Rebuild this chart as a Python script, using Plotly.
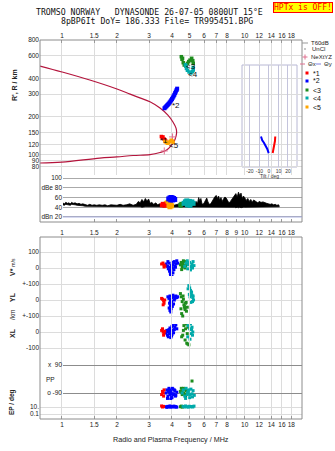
import math
import plotly.graph_objects as go

# ---------------- data ----------------
freq_ticks_top = [1, 1.5, 2, 3, 4, 5, 6, 7, 8, 10, 12, 14, 16, 18]
freq_ticks_mid = [1, 1.5, 2, 3, 4, 5, 6, 7, 8, 9, 10, 12, 14, 16, 18]
height_ticks = [80, 90, 100, 120, 150, 200, 300, 400, 600, 800]
amp_ticks = [20, 40, 60, 80, 100]
amp_ticktext = ["dBn 20", "40", "60", "dBe 80", "100"]
tilt_ticks = [-20, -10, 0, 10, 20]

# model profile (MHz, km)
prof_f = [0.758, 1.0, 1.42, 2.0, 2.36, 2.67, 3.03, 3.44, 3.80, 4.05, 4.21, 4.24, 4.15,
          3.98, 3.74, 3.44, 3.03, 2.45, 2.0, 1.61, 1.0, 0.758]
prof_h = [499, 448, 387, 329, 300, 280, 261, 233, 205, 181, 162, 148, 131,
          119, 109, 104, 100, 98.5, 96, 94, 87.5, 86]

nextyz_f = [4.03, 3.63]
nextyz_h = [138, 107]

# echo traces (MHz, km)
e1_f = [3.50, 3.54, 3.57, 3.62, 3.66, 3.70]
e1_h = [139, 136, 138, 133, 131, 128]
e2_f = [3.64, 3.68, 3.72, 3.76, 3.80, 3.84, 3.88, 3.92, 3.96, 4.00, 4.04, 4.08, 4.12, 4.16, 4.20, 4.24, 4.27]
e2_h = [232, 236, 240, 244, 248, 252, 257, 262, 268, 274, 281, 288, 296, 305, 314, 323, 331]
e3_f = [4.50, 4.57, 4.54, 4.61, 4.67, 4.77, 4.86, 4.94, 5.02, 5.13, 5.20, 5.23]
e3_h = [591, 574, 564, 530, 508, 499, 524, 541, 555, 574, 550, 524]
e4_f = [4.74, 4.77, 4.80, 4.86, 4.96, 5.08, 5.18, 5.23, 5.23]
e4_h = [510, 499, 478, 462, 448, 440, 450, 464, 486]
e5_f = [3.66, 3.72, 3.78, 3.84, 3.90, 3.96, 4.02, 4.06]
e5_h = [127, 125, 123, 124, 127, 130, 128, 125]

# amplitude (dB)
noise_f = [
    1.01, 1.03, 1.05, 1.07, 1.09, 1.11, 1.13, 1.15, 1.18, 1.21,
    1.24, 1.27, 1.30, 1.34, 1.38, 1.42, 1.46, 1.50, 1.55, 1.60,
    1.66, 1.72, 1.78, 1.85, 1.92, 2.00, 2.08, 2.16, 2.25, 2.35,
    2.45, 2.55, 2.62, 2.68, 2.74, 2.80, 2.86, 2.92, 2.98, 3.04,
    3.10, 3.18, 3.26, 3.34, 3.42, 3.50, 3.65, 3.80, 3.95, 4.10,
    4.30, 4.50, 4.70, 4.90, 5.10, 5.30, 5.42, 5.52, 5.60, 5.68,
    5.76, 5.84, 5.92, 6.00, 6.10, 6.20, 6.30, 6.40, 6.52, 6.64,
    6.76, 6.88, 7.00, 7.10, 7.20, 7.30, 7.42, 7.54, 7.66, 7.80,
    7.92, 8.05, 8.20, 8.35, 8.50, 8.65, 8.80, 8.95, 9.10, 9.25,
    9.40, 9.55, 9.70, 9.85, 10.0, 10.2, 10.4, 10.6, 10.8, 11.0,
    11.2, 11.4, 11.6, 11.8, 12.0, 12.3, 12.6, 12.9, 13.2, 13.5,
    13.8, 14.1, 14.4, 14.7, 15.0, 15.3, 15.5]
noise_db = [
    49, 47, 50, 48, 49, 47, 50, 48, 49, 47,
    48, 46, 47, 45, 44, 46, 44, 45, 44, 45,
    44, 45, 43, 45, 44, 44, 46, 44, 45, 47,
    44, 46, 52, 49, 56, 51, 58, 53, 57, 48,
    50, 46, 49, 45, 47, 45, 46, 45, 46, 44,
    46, 45, 47, 46, 45, 47, 52, 48, 60, 53,
    58, 47, 46, 49, 56, 59, 51, 46, 47, 53,
    56, 62, 64, 58, 63, 55, 60, 52, 57, 61,
    59, 53, 49, 52, 56, 59, 62, 68, 61, 71,
    64, 69, 58, 63, 60, 54, 58, 52, 56, 50,
    55, 53, 51, 49, 52, 50, 51, 49, 48, 47,
    46, 47, 45, 46, 44, 45, 43]
noise_floor = [
    45, 44, 46, 45, 45, 44, 46, 45, 45, 44,
    44, 43, 43, 42, 42, 42, 42, 42, 42, 42,
    42, 42, 41, 42, 42, 41, 42, 42, 42, 42,
    41, 42, 41, 41, 40, 41, 41, 41, 41, 41,
    41, 41, 41, 41, 41, 41, 41, 41, 41, 41,
    41, 41, 41, 41, 41, 41, 41, 41, 40, 41,
    40, 41, 41, 41, 40, 40, 41, 41, 41, 40,
    40, 40, 40, 40, 40, 40, 40, 41, 40, 40,
    40, 40, 41, 40, 40, 40, 40, 39, 40, 39,
    40, 39, 40, 40, 40, 40, 40, 41, 40, 41,
    40, 41, 41, 41, 41, 41, 41, 41, 41, 41,
    41, 41, 41, 41, 41, 41, 41]
amp1_f = [3.52, 3.56, 3.60, 3.64]
amp1_db = [44, 47, 46, 43]
amp2_f = [3.84, 3.90, 3.96, 4.02, 4.08, 4.14, 3.94, 4.04]
amp2_db = [57, 59, 60, 59, 58, 56, 55, 55]
amp3_f = [4.44, 4.50, 4.47]
amp3_db = [45, 47, 43]
amp4_f = [4.66, 4.74, 4.82, 4.90, 4.98, 5.06, 5.14, 5.22, 4.86, 5.02]
amp4_db = [48, 51, 53, 50, 52, 49, 51, 48, 45, 44]
amp5_f = [3.68, 3.74, 3.80, 3.86, 3.92, 3.98, 3.78, 3.90]
amp5_db = [46, 48, 50, 49, 47, 43, 44, 41]

# velocities (m/s) and locations (km)
v1_f = [3.51, 3.57, 3.62, 3.66, 3.62, 3.57, 3.62]
v1 = [25, 31, 6, 12, 19, -62, -75]
v2_f = [3.72, 3.78, 3.82, 3.86, 3.88, 3.90, 3.92, 3.95, 3.97, 4.00, 4.02, 4.05, 4.08, 4.12, 4.15, 4.20,
        4.25, 4.30, 3.85, 3.90, 3.93, 3.96, 4.00, 3.88, 3.92, 3.98, 3.95, 3.90, 4.05, 4.18, 3.80, 4.10]
v2 = [25, 10, -5, 30, -20, 5, -35, -10, 15, -50, 0, 20, 35, 40, 10, 25,
      45, 30, -60, -80, -45, -95, -70, -110, -125, -90, -25, -15, -30, 5, 40, -10]
v3_f = [4.45, 4.50, 4.55, 4.60, 4.65, 4.70, 4.75, 4.80, 4.52, 4.62, 4.72, 4.58]
v3 = [20, 35, 5, 30, 10, 40, 15, 25, -10, 45, 0, 18]
v4_f = [4.70, 4.78, 4.85, 4.92, 5.00, 5.08, 5.15, 5.22, 5.28, 4.88, 5.05, 5.18, 4.95, 5.12]
v4 = [10, 30, 45, 20, 35, 5, 25, 40, 15, -5, -12, 0, 30, 10]

yl1_f = [3.51, 3.55, 3.60, 3.62, 3.58, 3.65]
yl1 = [10, 5, -5, -20, -30, 0]
yl2_f = [3.80, 3.85, 3.90, 3.95, 4.00, 4.05, 4.10, 4.15, 4.20, 4.25, 3.88,
         3.92, 3.98, 4.02, 3.86, 3.90, 3.94, 4.08, 3.96, 3.92, 4.12, 4.30]
yl2 = [20, 10, 25, 5, 15, 30, 20, 10, 25, 15, -20,
       -35, -10, -40, -50, -65, -75, -25, -55, -5, 0, 20]
yl3_f = [4.45, 4.50, 4.55, 4.60, 4.65, 4.70, 4.75, 4.80, 4.85, 4.52, 4.62, 4.72, 4.58, 4.68, 4.78, 4.48]
yl3 = [40, 20, -10, 25, -30, -50, -20, -70, -45, -85, 5, -60, -100, -40, -15, -55]
yl4_f = [4.95, 5.00, 5.05, 5.10, 5.15, 5.20, 5.25, 4.90, 5.02, 5.12, 5.18, 5.22, 4.98, 5.08]
yl4 = [90, 75, 60, 45, 30, 15, 0, 70, 20, 50, -10, 25, 35, -15]

xl1_f = [3.51, 3.55, 3.58, 3.62, 3.60, 3.65]
xl1 = [10, 20, 0, -10, -20, 5]
xl2_f = [3.70, 3.75, 3.80, 3.85, 3.90, 3.95, 4.00, 4.05, 4.10, 4.15, 4.20,
         4.25, 3.78, 3.88, 3.92, 3.98, 4.02, 4.08, 3.82, 3.94, 4.12, 4.00]
xl2 = [-5, 10, 0, 15, 25, 20, 35, 40, 55, 30, 45,
       20, -20, -10, 5, -25, 10, -5, -30, -35, 15, -15]
xl3_f = [4.45, 4.50, 4.55, 4.60, 4.65, 4.70, 4.75, 4.80, 4.85, 4.90, 4.52, 4.62, 4.72, 4.82, 4.58, 4.68, 4.95, 4.88]
xl3 = [120, 80, 60, 100, 40, 70, 20, 50, -10, 30, -30, 10, -50, -70, -20, 90, -80, -75]
xl4_f = [4.75, 4.80, 4.85, 4.90, 4.95, 5.00, 5.05, 5.10, 5.15, 5.20, 5.25, 4.88, 5.02, 5.12, 5.18, 4.98]
xl4 = [100, 80, 60, 40, 70, 20, 50, -10, 30, 0, 60, -30, -45, 15, -20, 85]

# polarisation (deg) and EP (deg)
pp1_f = [3.51, 3.55, 3.60, 3.62, 3.58]
pp1 = [-100, -80, -110, -70, -90]
pp2_f = [3.70, 3.75, 3.80, 3.85, 3.90, 3.95, 4.00, 4.05, 4.10, 4.15, 4.20, 4.25,
         3.78, 3.88, 3.92, 3.98, 4.02, 4.08, 3.82, 3.94, 4.12, 4.00, 3.86, 4.18]
pp2 = [-90, -70, -110, -60, -100, -80, -120, -65, -95, -75, -105, -85,
       -125, -70, -90, -115, -60, -100, -80, -130, -70, -95, -85, -110]
pp3_f = [4.45, 4.50, 4.55, 4.60, 4.65, 4.70, 4.75, 4.80, 4.85, 4.52, 4.62, 4.72, 5.15]
pp3 = [-80, -60, -100, -70, -90, -65, -110, -75, -95, -85, -60, -100, -13]
pp4_f = [4.55, 4.62, 4.70, 4.78, 4.85, 4.92, 5.00, 5.08, 5.15, 5.22, 5.30, 4.75, 4.88, 5.02, 5.18, 4.95]
pp4 = [-90, -70, -110, -60, -100, -80, -120, -65, -95, -75, -105, -125, -85, -100, -115, -70]

ep1_f = [3.51, 3.55, 3.60]
ep1 = [20, 10, 15]
ep2_f = [3.70, 3.75, 3.80, 3.85, 3.90, 3.95, 4.00, 4.05, 4.10, 4.15, 4.20, 4.25]
ep2 = [12, 8, 15, 10, 20, 9, 14, 11, 18, 10, 13, 9]
ep3_f = [4.45, 4.50, 4.55]
ep3 = [12, 18, 9]
ep4_f = [4.60, 4.68, 4.75, 4.82, 4.90, 4.98, 5.05, 5.12, 5.20, 5.28]
ep4 = [15, 10, 20, 12, 9, 16, 11, 14, 10, 18]

# tilt inset (deg, km)
tiltx_deg = [-8.4, -7.1, -5.3, -3.2, -1.8, -0.3]
tiltx_h = [139, 130, 124, 117, 111, 103]
tilty_deg = [3.9, 4.7, 5.8, 6.3, 6.6]
tilty_h = [103, 111, 119, 128, 139]

# ---------------- styling ----------------
C1, C2, C3, C4, C5 = "#ff0000", "#0000ff", "#1e8c1e", "#00aaaa", "#ffa500"
PROF = "#b4143c"
PINK = "#e07090"
GRID = "#dcdcdc"
FRAME = "#8c8c8c"
FONT = "Liberation Sans"
MONO = "DejaVu Sans Mono"

W, H = 335, 451
ML, MR, MT, MB = 40, 33, 40, 32
PW, PH = W - ML - MR, H - MT - MB


def px(x):
    return (x - ML) / PW


def py(y):
    return (H - MB - y) / PH


LOGR = [math.log10(0.758), math.log10(20.6)]
D_IN = px(63)
LOGR_IN = [LOGR[0] + D_IN * (LOGR[1] - LOGR[0]), LOGR[1]]

fig = go.Figure()


def sq(f, v, color, xa, ya, size=3):
    fig.add_trace(go.Scatter(x=f, y=v, mode="markers", xaxis=xa, yaxis=ya,
                             marker=dict(symbol="square", size=size, color=color, line=dict(width=0)),
                             hoverinfo="skip"))


# lower panel background subplot (for full-height vertical grid) - first so it sits underneath
fig.add_trace(go.Scatter(x=[], y=[], xaxis="x3", yaxis="y8"))

# main panel
fig.add_trace(go.Scatter(x=prof_f, y=prof_h, mode="lines", line=dict(color=PROF, width=1.2, shape="spline"),
                         xaxis="x", yaxis="y"))
fig.add_trace(go.Scatter(x=nextyz_f, y=nextyz_h, mode="markers", xaxis="x", yaxis="y",
                         marker=dict(symbol="cross-thin", size=5, line=dict(color=PINK, width=1))))
sq(e2_f, e2_h, C2, "x", "y", 4)
sq(e3_f, e3_h, C3, "x", "y", 3.5)
sq(e4_f, e4_h, C4, "x", "y", 3.5)
sq(e1_f, e1_h, C1, "x", "y", 3.5)
sq(e5_f, e5_h, C5, "x", "y", 3.5)

# amplitude panel
fig.add_trace(go.Scatter(x=noise_f, y=noise_floor, mode="lines", line=dict(color="black", width=0.8),
                         xaxis="x2", yaxis="y2"))
fig.add_trace(go.Scatter(x=noise_f, y=noise_db, mode="lines", line=dict(color="black", width=0.8),
                         fill="tonexty", fillcolor="black", xaxis="x2", yaxis="y2"))
sq(amp5_f, amp5_db, C5, "x2", "y2", 5)
sq(amp1_f, amp1_db, C1, "x2", "y2", 4)
sq(amp2_f, amp2_db, C2, "x2", "y2", 5)
sq(amp3_f, amp3_db, C3, "x2", "y2", 4)
sq(amp4_f, amp4_db, C4, "x2", "y2", 5)

for fl, vl, col in [(v3_f, v3, C3), (v4_f, v4, C4), (v2_f, v2, C2), (v1_f, v1, C1)]:
    sq(fl, vl, col, "x3", "y3")
for fl, vl, col in [(yl3_f, yl3, C3), (yl4_f, yl4, C4), (yl2_f, yl2, C2), (yl1_f, yl1, C1)]:
    sq(fl, vl, col, "x3", "y4")
for fl, vl, col in [(xl3_f, xl3, C3), (xl4_f, xl4, C4), (xl2_f, xl2, C2), (xl1_f, xl1, C1)]:
    sq(fl, vl, col, "x3", "y5")
for fl, vl, col in [(pp3_f, pp3, C3), (pp4_f, pp4, C4), (pp2_f, pp2, C2), (pp1_f, pp1, C1)]:
    sq(fl, vl, col, "x5", "y6")
for fl, vl, col in [(ep3_f, ep3, C3), (ep4_f, ep4, C4), (ep2_f, ep2, C2), (ep1_f, ep1, C1)]:
    sq(fl, vl, col, "x4", "y7")

# tilt inset
fig.add_trace(go.Scatter(x=tiltx_deg, y=tiltx_h, mode="lines", line=dict(color=C2, width=2),
                         xaxis="x6", yaxis="y9"))
fig.add_trace(go.Scatter(x=tilty_deg, y=tilty_h, mode="lines", line=dict(color=C1, width=2),
                         xaxis="x6", yaxis="y9"))

tf = dict(family=FONT, size=6.5, color="#222")
cx = dict(type="log", range=LOGR, zeroline=False, showline=False, tickfont=tf, ticks="inside",
          ticklen=3, tickcolor="#999", gridcolor=GRID, gridwidth=1, tickangle=0)
cy = dict(zeroline=False, showline=False, tickfont=tf, ticks="", gridcolor=GRID, gridwidth=1)

fig.update_layout(
    width=W, height=H, margin=dict(l=ML, r=MR, t=MT, b=MB),
    paper_bgcolor="white", plot_bgcolor="rgba(0,0,0,0)", showlegend=False,
    font=dict(family=FONT, size=6.5, color="#222"),
    xaxis=dict(cx, domain=[0, 1], anchor="y", side="top", tickvals=freq_ticks_top,
               ticktext=[str(v) for v in freq_ticks_top]),
    xaxis2=dict(type="log", range=LOGR_IN, domain=[D_IN, 1], anchor="y2", showgrid=False,
                showticklabels=False, ticks="inside", ticklen=3, tickcolor="#999",
                tickvals=freq_ticks_mid, zeroline=False),
    xaxis3=dict(cx, domain=[0, 1], anchor="y3", side="top", tickvals=freq_ticks_mid,
                ticktext=[str(v) for v in freq_ticks_mid]),
    xaxis4=dict(cx, domain=[0, 1], anchor="y7", side="bottom", tickvals=freq_ticks_top,
                ticktext=[str(v) for v in freq_ticks_top]),
    xaxis5=dict(type="log", range=LOGR_IN, domain=[D_IN, 1], anchor="y6", showgrid=False,
                showticklabels=False, ticks="", zeroline=False),
    xaxis6=dict(range=[-28.4, 29.5], domain=[px(242), px(297)], anchor="y9", tickvals=tilt_ticks,
                ticktext=[str(v) for v in tilt_ticks], tickfont=dict(family=FONT, size=5, color="#333"),
                ticks="", gridcolor="#c4c4dc", zeroline=False, showline=False, tickangle=0),
    yaxis=dict(cy, type="log", domain=[py(175), 1], range=[1.840, 2.903], anchor="x",
               tickvals=height_ticks, ticktext=[str(v) for v in height_ticks]),
    yaxis2=dict(cy, domain=[py(222), py(175)], range=[9.7, 106.2], anchor="x2",
                tickvals=amp_ticks, ticktext=amp_ticktext, gridcolor="#aaaaaa"),
    yaxis3=dict(cy, domain=[py(276), py(237)], range=[-50, 193.75], anchor="x3",
                tickvals=[0, 100], ticktext=["0", "100"]),
    yaxis4=dict(cy, domain=[py(324), py(276)], range=[-150, 150], anchor="x3",
                tickvals=[-100, 0, 100], ticktext=["+-100", "0", "+-100"]),
    yaxis5=dict(cy, domain=[py(355), py(324)], range=[-143.75, 50], anchor="x3",
                tickvals=[-100, 0], ticktext=["-100", "0"]),
    yaxis6=dict(cy, domain=[py(400), py(355)], range=[-135, 154.3], anchor="x5",
                tickvals=[-90, 90], ticktext=["o -90", "x\u00a0\u00a090"], gridcolor="#8c8c8c"),
    yaxis7=dict(cy, type="log", domain=[0, py(400)], range=[-2.4286, 3], anchor="x4",
                tickvals=[0.1, 10], ticktext=["0.1", "10."]),
    yaxis8=dict(domain=[0, py(237)], range=[0, 1], anchor="x3", showgrid=False,
                showticklabels=False, ticks="", zeroline=False),
    yaxis9=dict(type="log", domain=[py(167), py(65)], range=[1.903, 2.706], anchor="x6",
                showgrid=False, showticklabels=False, ticks="", zeroline=False),
)

shapes = [
    dict(type="rect", xref="paper", yref="paper", x0=px(242), x1=px(297), y0=py(167), y1=py(65),
         fillcolor="white", line=dict(color="#b8b8d4", width=1), layer="between"),
    dict(type="rect", xref="paper", yref="paper", x0=0, x1=1, y0=py(222), y1=1,
         line=dict(color=FRAME, width=1)),
    dict(type="rect", xref="paper", yref="paper", x0=0, x1=1, y0=0, y1=py(237),
         line=dict(color=FRAME, width=1)),
    dict(type="line", xref="x2 domain", yref="y2", x0=0, x1=1, y0=20, y1=20,
         line=dict(color="#a8aee0", width=1)),
    # legend glyphs
    dict(type="line", xref="paper", yref="paper", x0=px(302), x1=px(308), y0=py(43), y1=py(43),
         line=dict(color="#999", width=1)),
    dict(type="line", xref="paper", yref="paper", x0=px(300), x1=px(305), y0=py(64), y1=py(64),
         line=dict(color=PINK, width=1)),
    dict(type="line", xref="paper", yref="paper", x0=px(316), x1=px(321), y0=py(64), y1=py(64),
         line=dict(color="#8080e0", width=1)),
    dict(type="rect", xref="paper", yref="paper", x0=px(304.5), x1=px(305.5), y0=py(49.5), y1=py(48.5),
         fillcolor="#222", line=dict(width=0)),
    dict(type="line", xref="paper", yref="paper", x0=px(302.5), x1=px(307.5), y0=py(57), y1=py(57),
         line=dict(color=PINK, width=1)),
    dict(type="line", xref="paper", yref="paper", x0=px(305), x1=px(305), y0=py(59.5), y1=py(54.5),
         line=dict(color=PINK, width=1)),
]
for i, col in enumerate([C1, C2, C3, C4, C5]):
    yc = [73, 81, 90, 98, 107][i]
    shapes.append(dict(type="rect", xref="paper", yref="paper", x0=px(305.5), x1=px(308.5),
                       y0=py(yc + 1.5), y1=py(yc - 1.5), fillcolor=col, line=dict(width=0)))
fig.update_layout(shapes=shapes)

ann = []


def A(text, x, y, size=6.5, xanchor="center", yanchor="middle", angle=0, color="#222", family=FONT, **kw):
    ann.append(dict(text=text, x=x, y=y, xref="paper", yref="paper", showarrow=False,
                    xanchor=xanchor, yanchor=yanchor, textangle=angle,
                    font=dict(size=size, color=color, family=family), **kw))


A("TROMSO NORWAY\u00a0\u00a0\u00a0DYNASONDE 26-07-05 0800UT 15\u00b0E", px(149), py(12), size=8.2, family=MONO, color="#111")
A("8pBP6It DoY= 186.333 File= TR995451.BPG", px(157), py(20.5), size=8.2, family=MONO, color="#111")
A("HPTx is OFF!", px(333), py(8), size=8, family=MONO, color="#ff0000", xanchor="right",
  bgcolor="#ffff00", bordercolor="#ff0000", borderwidth=1, borderpad=0)
A("<b>R', R / km</b>", px(15), py(85), size=7, angle=-90)
A("<b>V*</b> <span style='font-size:5px'>m/s</span>", px(12), py(267), size=7, angle=-90)
A("<b>YL</b>", px(12), py(297), size=7, angle=-90)
A("/km", px(12), py(315), size=6.5, angle=-90)
A("<b>XL</b>", px(12), py(333), size=7, angle=-90)
A("PP", px(44), py(379), size=6.5, xanchor="left")
A("<b>EP / deg</b>", px(12), py(402), size=6.5, angle=-90)
A("Radio and Plasma Frequency / MHz", px(171), py(439), size=7.2)
A("Tilt / deg", px(269), py(175.5), size=5, color="#333")
# legend
A("T60dB", px(309), py(43), size=6, xanchor="left")
A("UnCl", px(310), py(49.5), size=6, xanchor="left")
A("NeXtYZ", px(309), py(57), size=6, xanchor="left")
A("\u0398x", px(306), py(64), size=6, xanchor="left")
A("\u0398y", px(322), py(64), size=6, xanchor="left")
for txt, yc in zip(["*1", "*2", "<3", "<4", "<5"], [73, 81, 90, 98, 107]):
    A(txt, px(311), py(yc), size=7, xanchor="left", color="#111")

# echo labels in the main panel (log coordinates)
for txt, f, h in [("*2", 4.21, 244), ("*1", 3.62, 129), ("<5", 4.12, 118), ("<3", 5.08, 499), ("<4", 5.2, 428)]:
    ann.append(dict(text=txt, x=math.log10(f), y=math.log10(h), xref="x", yref="y", showarrow=False,
                    font=dict(size=8, color="#111", family=FONT), xanchor="center", yanchor="middle"))

fig.update_layout(annotations=ann)
fig.write_html("out.html")
